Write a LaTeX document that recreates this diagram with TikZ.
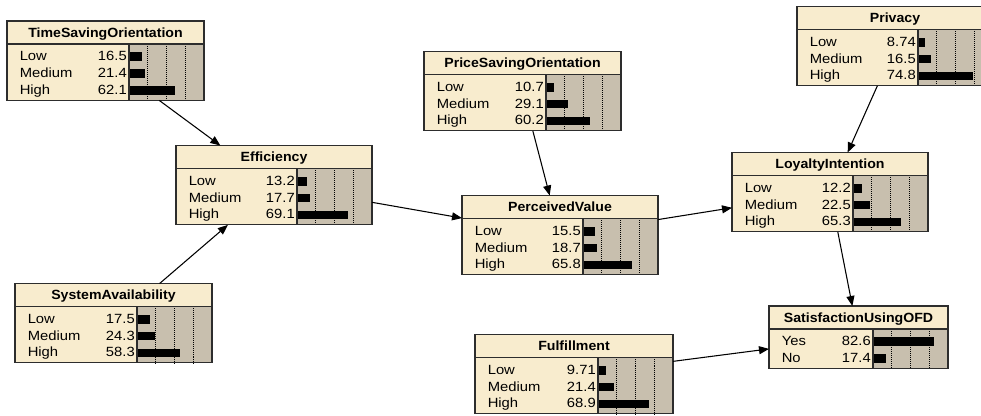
\documentclass[tikz,border=0pt]{standalone}
\usepackage{fontspec}
\setmainfont{Liberation Sans}
\newfontfamily\statefont{Liberation Sans}[FakeStretch=1.11]
\newfontfamily\titlefont{Liberation Sans}[FakeStretch=1.06]
\usetikzlibrary{arrows.meta}

\definecolor{bncream}{RGB}{248,236,206}
\definecolor{bnbar}{RGB}{200,191,174}
\definecolor{bnline}{RGB}{45,45,45}

\tikzset{
  bnbox/.style={rectangle, inner sep=0pt, outer sep=0pt, anchor=north west, fill=bncream},
  bnframe/.style={draw=bnline, line width=0.8pt},
  bngrid/.style={draw=black, line width=0.6pt, dash pattern=on 0.75pt off 0.75pt},
  bntitle/.style={inner sep=0pt, anchor=base, font={\titlefont\bfseries\fontsize{10pt}{12pt}\selectfont}},
  bnstate/.style={inner sep=0pt, font={\statefont\fontsize{10pt}{12pt}\selectfont}},
  bnlink/.style={draw=black, line width=0.8pt, -{Triangle[length=7.5pt,width=6pt]}}
}

% Belief-bar node: name, left, top, width, number of states, title, state/value list
\newcommand{\beliefnode}[7]{%
  \pgfmathsetmacro\bnH{23+16.8*#5+6}
  \pgfmathsetmacro\bnR{#2+#4}
  \pgfmathsetmacro\bnB{#3+\bnH}
  \pgfmathsetmacro\bnT{#3+23}
  \pgfmathsetmacro\bnX{\bnR-75}
  \node[bnbox, minimum width={#4*0.75pt}, minimum height={\bnH*0.75pt}] (#1) at (#2,#3) {};
  \fill[bnbar] (\bnX,\bnT) rectangle (\bnR,\bnB);
  \foreach \g in {0.25,0.5,0.75}
    \draw[bngrid] ({\bnX+75*\g},\bnT) -- ({\bnX+75*\g},\bnB);
  \draw[bnframe] (#2,\bnT) -- (\bnR,\bnT) (\bnX,\bnT) -- (\bnX,\bnB);
  \draw[bnframe] (#1.north west) rectangle (#1.south east);
  \node[bntitle] at ({#2+#4/2},{#3+16.5}) {#6};
  \foreach \lab/\val [count=\i] in {#7} {
    \pgfmathsetmacro\rb{\bnT+16.8+16.8*(\i-1)}
    \node[bnstate, anchor=base west] at ({#2+12.5},\rb) {\lab};
    \node[bnstate, anchor=base east] at ({\bnX-2},\rb) {\val};
    \fill[black] ({\bnX+0.5},{\rb-8.3}) rectangle ({\bnX+0.5+0.73*\val},{\rb+0.3});
  }
}

\begin{document}
\begin{tikzpicture}[x=0.75pt, y=-0.75pt]
  \useasboundingbox[fill=white] (0,0) rectangle (981,416);
  \clip (0,0) rectangle (981,416);

  \beliefnode{tso}{7}{21}{197}{3}{TimeSavingOrientation}{Low/16.5,Medium/21.4,High/62.1}
  \beliefnode{eff}{176}{145.5}{196}{3}{Efficiency}{Low/13.2,Medium/17.7,High/69.1}
  \beliefnode{sa}{15}{283.5}{197}{3}{SystemAvailability}{Low/17.5,Medium/24.3,High/58.3}
  \beliefnode{pso}{424}{51.5}{197}{3}{PriceSavingOrientation}{Low/10.7,Medium/29.1,High/60.2}
  \beliefnode{pv}{462}{195.5}{196}{3}{PerceivedValue}{Low/15.5,Medium/18.7,High/65.8}
  \beliefnode{priv}{797}{6.5}{196}{3}{Privacy}{Low/8.74,Medium/16.5,High/74.8}
  \beliefnode{li}{732}{152.5}{196}{3}{LoyaltyIntention}{Low/12.2,Medium/22.5,High/65.3}
  \beliefnode{ful}{475}{334.5}{198}{3}{Fulfillment}{Low/9.71,Medium/21.4,High/68.9}
  \beliefnode{suo}{769}{306}{179}{2}{SatisfactionUsingOFD}{Yes/82.6,No/17.4}

  \draw[bnlink] (tso) -- (eff);
  \draw[bnlink] (sa) -- (eff);
  \draw[bnlink] (eff) -- (pv);
  \draw[bnlink] (pso) -- (pv);
  \draw[bnlink] (pv) -- (li);
  \draw[bnlink] (priv) -- (li);
  \draw[bnlink] (li) -- (suo);
  \draw[bnlink] (ful) -- (suo);
\end{tikzpicture}
\end{document}
